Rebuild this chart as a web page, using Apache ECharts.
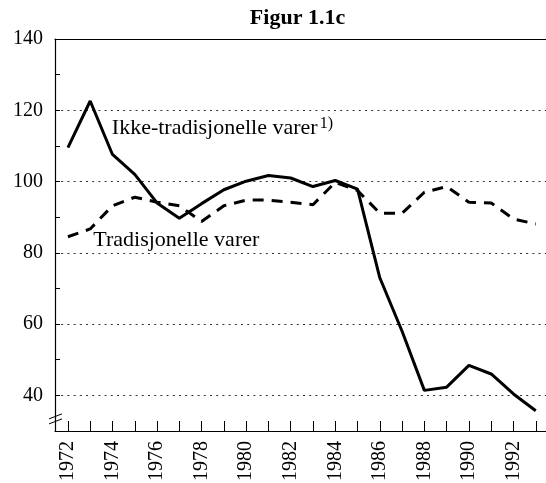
<!DOCTYPE html>
<html>
<head>
<meta charset="utf-8">
<script src="https://cdn.jsdelivr.net/npm/echarts@6/dist/echarts.min.js"></script>
<style>
  html, body { margin: 0; padding: 0; background: #fff; }
  #chart { width: 546px; height: 483px; }
</style>
</head>
<body>
<div id="chart"></div>
<script>
const years = [1972, 1973, 1974, 1975, 1976, 1977, 1978, 1979, 1980, 1981, 1982,
  1983, 1984, 1985, 1986, 1987, 1988, 1989, 1990, 1991, 1992, 1993];
const ikkeTradisjonelle = [109.5, 122.6, 107.6, 102.0, 94.0, 89.7, 93.8, 97.7, 100.1, 101.7, 101.0,
  98.6, 100.3, 97.9, 73.0, 58.0, 41.4, 42.3, 48.4, 46.0, 40.4, 35.7];
const tradisjonelle = [84.5, 86.7, 93.2, 95.6, 94.2, 93.2, 88.8, 93.2, 94.8, 94.8, 94.2,
  93.5, 99.8, 97.5, 91.1, 91.1, 97.0, 98.6, 94.2, 94.0, 89.5, 88.1];
const yearLabels = years.filter((y) => y % 2 === 0);
const yLabels = [40, 60, 80, 100, 120, 140];

const FONT = 'Liberation Serif';
const X_MIN = 1971.42;
const X_MAX = 1993.46;

const chart = echarts.init(document.getElementById('chart'));

chart.setOption({
  animation: false,
  backgroundColor: '#fff',
  grid: { left: 55, right: 0, top: 39, bottom: 52, outerBoundsMode: 'none' },
  xAxis: [{
    type: 'value',
    min: X_MIN,
    max: X_MAX,
    axisLine: { lineStyle: { color: '#000', width: 1.2 } },
    axisTick: { inside: true, length: 10, customValues: years, lineStyle: { color: '#000', width: 1 } },
    axisLabel: {
      customValues: yearLabels,
      rotate: 90,
      margin: 10,
      color: '#000',
      fontFamily: FONT,
      fontSize: 20,
      formatter: (v) => String(Math.round(v)),
    },
    splitLine: { show: false },
  }, {
    type: 'value',
    position: 'top',
    min: X_MIN,
    max: X_MAX,
    axisLine: { show: true, lineStyle: { color: '#000', width: 1.2 } },
    axisTick: { show: false },
    axisLabel: { show: false },
    splitLine: { show: false },
  }],
  yAxis: {
    type: 'value',
    min: 30,
    max: 140,
    interval: 10,
    axisLine: { show: true, lineStyle: { color: '#000', width: 1.2 } },
    axisTick: { show: true, inside: true, length: 5, lineStyle: { color: '#000' } },
    axisLabel: {
      margin: 12,
      color: '#000',
      fontFamily: FONT,
      fontSize: 20,
      formatter: (v) => (yLabels.includes(v) ? String(v) : ''),
    },
    splitLine: {
      show: true,
      lineStyle: { color: ['rgba(0,0,0,0)', '#333'], type: [2, 4.2], width: 1 },
    },
  },
  series: [{
    name: 'Ikke-tradisjonelle varer',
    type: 'line',
    data: years.map((y, i) => [y, ikkeTradisjonelle[i]]),
    showSymbol: false,
    lineStyle: { color: '#000', width: 3 },
  }, {
    name: 'Tradisjonelle varer',
    type: 'line',
    data: years.map((y, i) => [y, tradisjonelle[i]]),
    showSymbol: false,
    lineStyle: { color: '#000', width: 3, type: [11, 8] },
  }],
});

// annotations placed through the axes
const px = (x, y) => chart.convertToPixel({ xAxisIndex: 0, yAxisIndex: 0 }, [x, y]);
const titlePos = px((X_MIN + X_MAX) / 2, 140);
const ikkePos = px(1973.97, 113.2);
const tradPos = px(1973.14, 81.9);
const axisX = px(X_MIN, 34)[0];
const b1 = px(X_MIN, 34.1)[1];
const b2 = px(X_MIN, 32.7)[1];

const txt = (x, y, text, size, weight) => ({
  type: 'text',
  x: x,
  y: y,
  style: {
    text: text,
    fontFamily: FONT,
    fontSize: size,
    fontWeight: weight || 'normal',
    fill: '#000',
    align: weight ? 'center' : 'left',
    verticalAlign: 'bottom',
  },
});

chart.setOption({
  graphic: [
    txt(titlePos[0] - 3, 29, 'Figur 1.1c', 22, 'bold'),
    txt(ikkePos[0], ikkePos[1] + 5, 'Ikke-tradisjonelle varer', 22),
    txt(ikkePos[0] + 208, ikkePos[1] - 3, '1)', 16),
    txt(tradPos[0], tradPos[1] + 5, 'Tradisjonelle varer', 22),
    {
      type: 'line',
      shape: { x1: axisX - 6, y1: b1 + 2.5, x2: axisX + 7, y2: b1 - 2.5 },
      style: { stroke: '#000', lineWidth: 1 },
    },
    {
      type: 'line',
      shape: { x1: axisX - 6, y1: b2 + 2.5, x2: axisX + 7, y2: b2 - 2.5 },
      style: { stroke: '#000', lineWidth: 1 },
    },
  ],
});
</script>
</body>
</html>
